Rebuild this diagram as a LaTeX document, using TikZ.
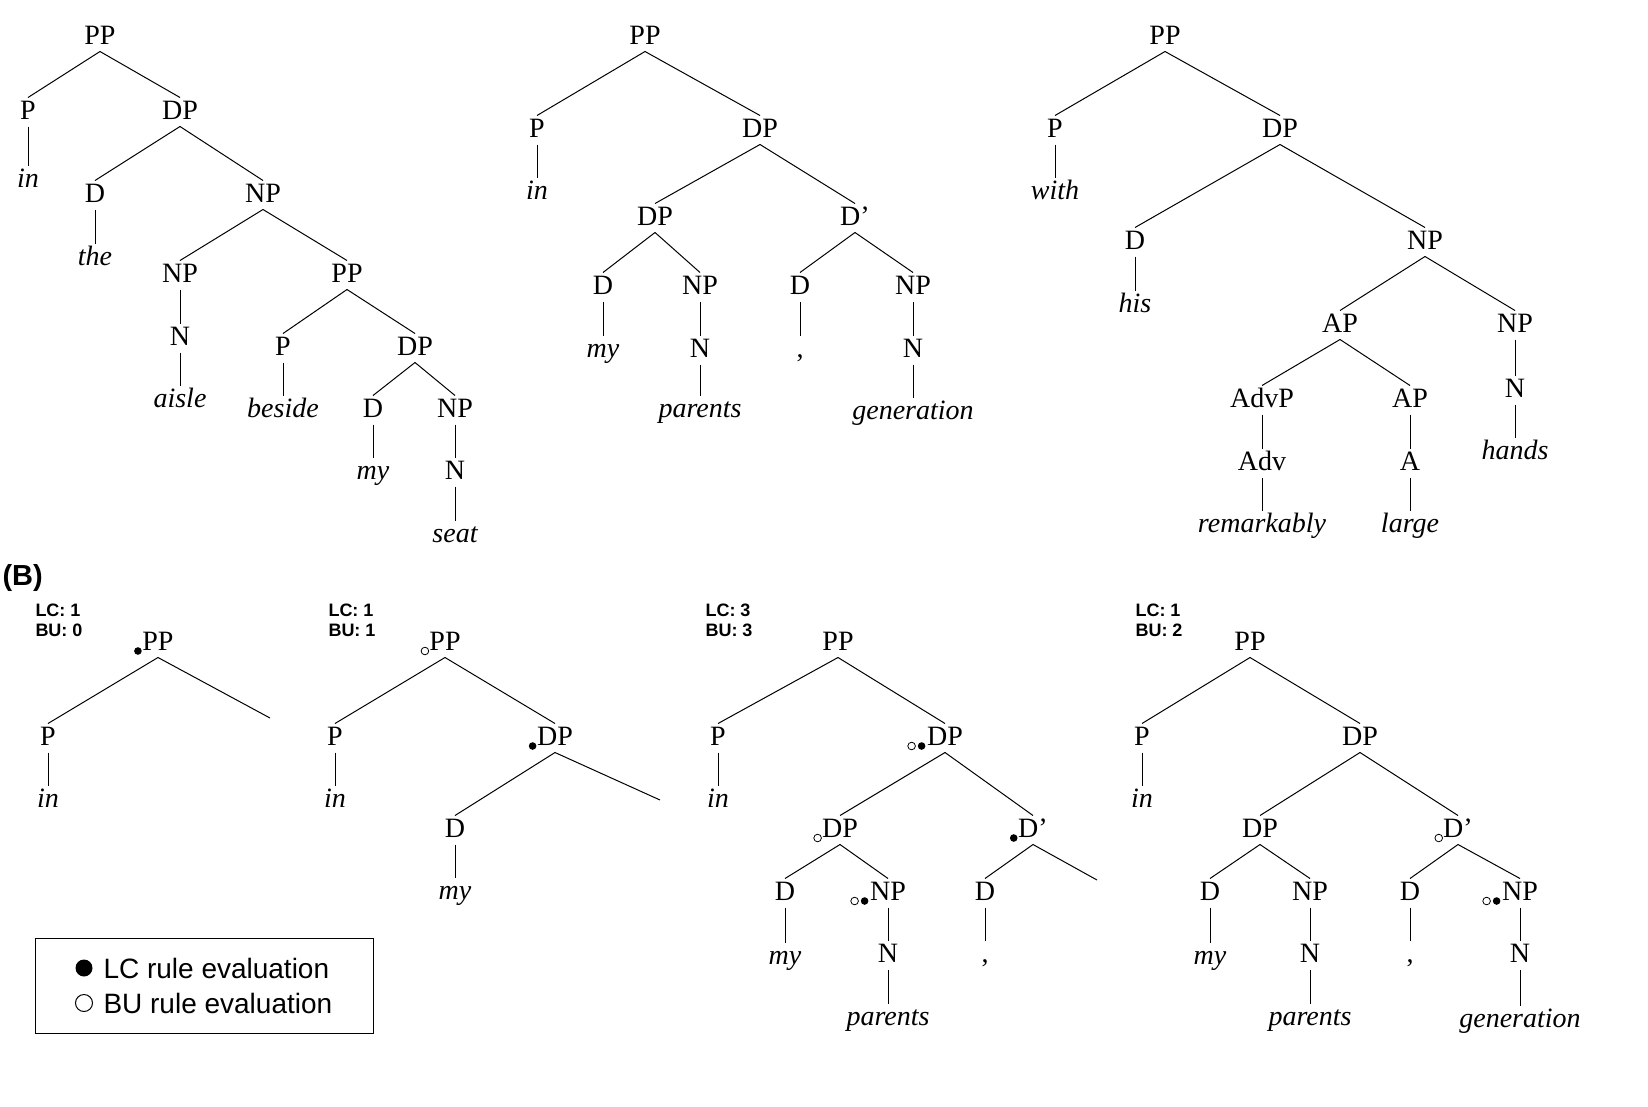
\documentclass[tikz,border=0pt]{standalone}
\usepackage{fontspec}
\setmainfont{Liberation Serif}
\newfontfamily\arialf{Liberation Sans}
\usetikzlibrary{calc}
\tikzset{t/.style={inner sep=2pt,text height=19pt,text depth=5pt,font=\fontsize{28}{30}\selectfont},
 w/.style={t,font=\fontsize{28}{30}\selectfont\itshape},
 sm/.style={font=\arialf\bfseries\fontsize{18}{20}\selectfont,align=left,anchor=north west,inner sep=0pt}}
\newcommand{\fdt}[1]{\fill ($(#1.west)+(-2,8)$) circle (3.8);}
\newcommand{\odt}[1]{\draw[line width=0.8pt] ($(#1.west)+(-2,8)$) circle (3.8);}
\newcommand{\bdt}[1]{\draw[line width=0.8pt] ($(#1.west)+(-13,8)$) circle (3.8);\fill ($(#1.west)+(-3,8)$) circle (3.8);}
\begin{document}
\begin{tikzpicture}[x=1pt,y=-1pt,line width=1pt]
\useasboundingbox (0,0) rectangle (1648,1106);
% Tree A1
\node[t] (a1) at (100,37) {PP};
\node[t] (a2) at (28,112) {P};
\node[t] (a3) at (180,112) {DP};
\node[w] (a4) at (28,180) {in};
\node[t] (a5) at (95,195) {D};
\node[t] (a6) at (263,195) {NP};
\node[w] (a7) at (95,258) {the};
\node[t] (a8) at (180,275) {NP};
\node[t] (a9) at (347,275) {PP};
\node[t] (a10) at (180,338) {N};
\node[w] (a11) at (180,400) {aisle};
\node[t] (a12) at (283,348) {P};
\node[t] (a13) at (415,348) {DP};
\node[w] (a14) at (283,410) {beside};
\node[t] (a15) at (373,410) {D};
\node[t] (a16) at (455,410) {NP};
\node[w] (a17) at (373,472) {my};
\node[t] (a18) at (455,472) {N};
\node[w] (a19) at (455,535) {seat};
\foreach \a/\b in {a1/a2,a1/a3,a2/a4,a3/a5,a3/a6,a5/a7,a6/a8,a6/a9,a8/a10,a10/a11,a9/a12,a9/a13,a12/a14,a13/a15,a13/a16,a15/a17,a16/a18,a18/a19}
  \draw (\a.south)--(\b.north);
% Tree A2
\node[t] (b1) at (645,37) {PP};
\node[t] (b2) at (537,130) {P};
\node[t] (b3) at (760,130) {DP};
\node[w] (b4) at (537,192) {in};
\node[t] (b5) at (655,218) {DP};
\node[t] (b6) at (855,218) {D'};
\node[t] (b7) at (603,287) {D};
\node[t] (b8) at (700,287) {NP};
\node[t] (b9) at (800,287) {D};
\node[t] (b10) at (913,287) {NP};
\node[w] (b11) at (603,350) {my};
\node[t] (b12) at (700,350) {N};
\node[t] (b13) at (800,350) {,};
\node[t] (b14) at (913,350) {N};
\node[w] (b15) at (700,410) {parents};
\node[w] (b16) at (913,412) {generation};
\foreach \a/\b in {b1/b2,b1/b3,b2/b4,b3/b5,b3/b6,b5/b7,b5/b8,b6/b9,b6/b10,b7/b11,b8/b12,b9/b13,b10/b14,b12/b15,b14/b16}
  \draw (\a.south)--(\b.north);
% Tree A3
\node[t] (c1) at (1165,37) {PP};
\node[t] (c2) at (1055,130) {P};
\node[t] (c3) at (1280,130) {DP};
\node[w] (c4) at (1055,192) {with};
\node[t] (c5) at (1135,242) {D};
\node[t] (c6) at (1425,242) {NP};
\node[w] (c7) at (1135,305) {his};
\node[t] (c8) at (1340,325) {AP};
\node[t] (c9) at (1515,325) {NP};
\node[t] (c10) at (1262,400) {AdvP};
\node[t] (c11) at (1410,400) {AP};
\node[t] (c12) at (1515,390) {N};
\node[t] (c13) at (1262,463) {Adv};
\node[t] (c14) at (1410,463) {A};
\node[w] (c15) at (1515,452) {hands};
\node[w] (c16) at (1262,525) {remarkably};
\node[w] (c17) at (1410,525) {large};
\foreach \a/\b in {c1/c2,c1/c3,c2/c4,c3/c5,c3/c6,c5/c7,c6/c8,c6/c9,c8/c10,c8/c11,c9/c12,c12/c15,c10/c13,c11/c14,c13/c16,c14/c17}
  \draw (\a.south)--(\b.north);
% (B)
\node[font=\arialf\bfseries\fontsize{29}{31}\selectfont,anchor=west,inner sep=0pt] (blab) at (2,578) {(B)};
% B1
\node[sm] (l1) at (35,603) {LC: 1\\BU: 0};
\node[t] (d1) at (158,643) {PP}; \fdt{d1}
\node[t] (d2) at (48,738) {P};
\node[w] (d3) at (48,800) {in};
\coordinate (d4) at (270,718);
\draw (d1.south)--(d2.north); \draw (d1.south)--(d4); \draw (d2.south)--(d3.north);
% B2
\node[sm] (l2) at (328,603) {LC: 1\\BU: 1};
\node[t] (e1) at (445,643) {PP}; \odt{e1}
\node[t] (e2) at (335,738) {P};
\node[t] (e3) at (555,738) {DP}; \fdt{e3}
\node[w] (e4) at (335,800) {in};
\node[t] (e5) at (455,830) {D};
\node[w] (e6) at (455,892) {my};
\coordinate (e7) at (660,800);
\foreach \a/\b in {e1/e2,e1/e3,e2/e4,e3/e5,e5/e6} \draw (\a.south)--(\b.north);
\draw (e3.south)--(e7);
% B3
\node[sm] (l3) at (705,603) {LC: 3\\BU: 3};
\node[t] (f1) at (838,643) {PP};
\node[t] (f2) at (718,738) {P};
\node[t] (f3) at (945,738) {DP}; \bdt{f3}
\node[w] (f4) at (718,800) {in};
\node[t] (f5) at (840,830) {DP}; \odt{f5}
\node[t] (f6) at (1033,830) {D'}; \fdt{f6}
\node[t] (f7) at (785,893) {D};
\node[t] (f8) at (888,893) {NP}; \bdt{f8}
\node[t] (f9) at (985,893) {D};
\node[w] (f10) at (785,957) {my};
\node[t] (f11) at (888,955) {N};
\node[t] (f12) at (985,955) {,};
\node[w] (f13) at (888,1018) {parents};
\coordinate (f14) at (1097,880);
\foreach \a/\b in {f1/f2,f1/f3,f2/f4,f3/f5,f3/f6,f5/f7,f5/f8,f6/f9,f7/f10,f8/f11,f9/f12,f11/f13} \draw (\a.south)--(\b.north);
\draw (f6.south)--(f14);
% B4
\node[sm] (l4) at (1135,603) {LC: 1\\BU: 2};
\node[t] (g1) at (1250,643) {PP};
\node[t] (g2) at (1142,738) {P};
\node[t] (g3) at (1360,738) {DP};
\node[w] (g4) at (1142,800) {in};
\node[t] (g5) at (1260,830) {DP};
\node[t] (g6) at (1458,830) {D'}; \odt{g6}
\node[t] (g7) at (1210,893) {D};
\node[t] (g8) at (1310,893) {NP};
\node[t] (g9) at (1410,893) {D};
\node[t] (g10) at (1520,893) {NP}; \bdt{g10}
\node[w] (g11) at (1210,957) {my};
\node[t] (g12) at (1310,955) {N};
\node[t] (g13) at (1410,955) {,};
\node[t] (g14) at (1520,955) {N};
\node[w] (g15) at (1310,1018) {parents};
\node[w] (g16) at (1520,1020) {generation};
\foreach \a/\b in {g1/g2,g1/g3,g2/g4,g3/g5,g3/g6,g5/g7,g5/g8,g6/g9,g6/g10,g7/g11,g8/g12,g9/g13,g10/g14,g12/g15,g14/g16} \draw (\a.south)--(\b.north);
% Legend
\node[draw,line width=0.8pt,minimum width=338,minimum height=95,anchor=north west,inner sep=0pt] (lg) at (35,938) {};
\fill (84,968) circle (8.5);
\draw[line width=1pt] (84,1003) circle (8.5);
\node[anchor=west,font=\arialf\fontsize{28}{30}\selectfont,inner sep=0pt] (lt1) at (103,968) {LC rule evaluation};
\node[anchor=west,font=\arialf\fontsize{28}{30}\selectfont,inner sep=0pt] (lt2) at (103,1003) {BU rule evaluation};
\end{tikzpicture}
\end{document}
